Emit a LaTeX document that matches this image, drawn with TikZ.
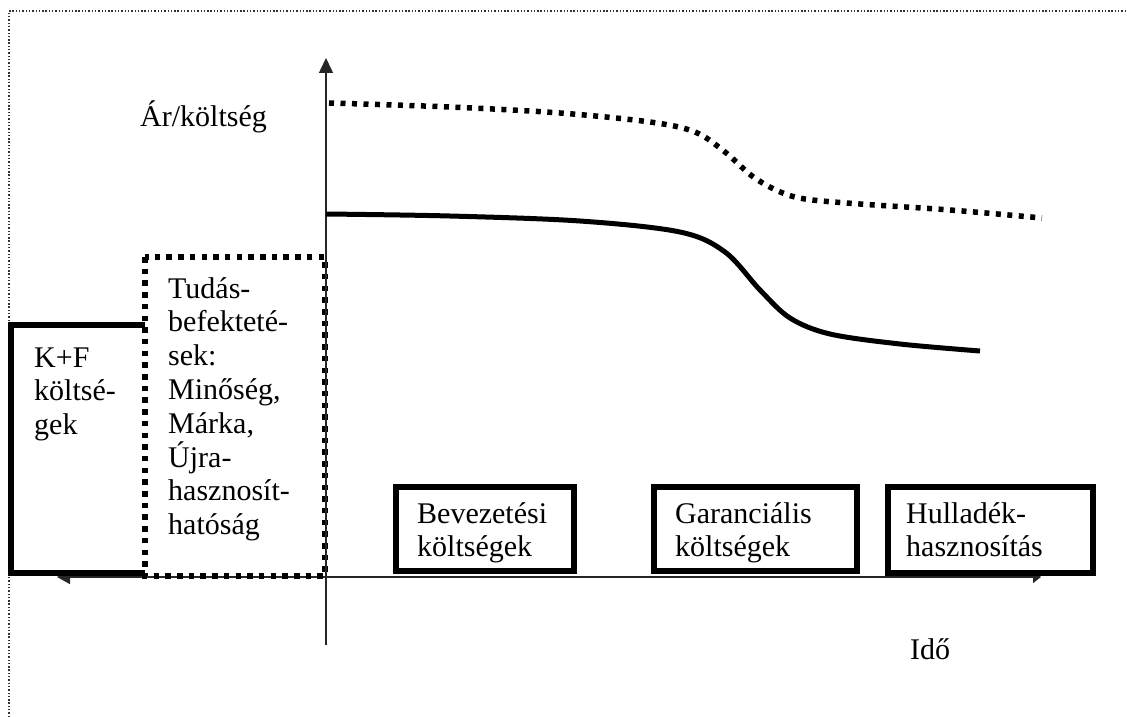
\documentclass[tikz,border=0pt]{standalone}
\usepackage{fontspec}
\setmainfont{Liberation Serif}
\usetikzlibrary{arrows.meta}
\begin{document}
\begin{tikzpicture}[x=1pt,y=-1pt,
  txt/.style={font=\fontsize{30}{33.8}\selectfont, inner sep=0pt, anchor=base west, text width=300pt, align=left},
  solidbox/.style={line width=6.5pt, fill=white, line join=miter},
  dotbox/.style={line width=5.5pt, dash pattern=on 5.5pt off 6.2pt, fill=white},
  axisline/.style={line width=1.5pt, black!85},
  outerborder/.style={line width=1.2pt, dash pattern=on 1.4pt off 1.9pt, black!80},
  solidcurve/.style={line width=5pt},
  dotcurve/.style={line width=5.5pt, dash pattern=on 5pt off 6.5pt}]
\useasboundingbox (0,0) rectangle (1127,717);
% outer dotted frame
\draw[outerborder] (9,717) -- (9,11) -- (1127,11);
% horizontal axis
\coordinate (hl) at (57,577);
\coordinate (hr) at (1041,577);
\draw[axisline, {Triangle[length=13pt,width=14pt]}-{Triangle[length=8pt,width=12pt]}] (hl) -- (hr);
% K+F box (open on the right)
\fill[white] (11,325) rectangle (147,573);
\draw[line width=6.5pt, line join=miter] (148,325) -- (11,325) -- (11,573) -- (150,573);
% Tudas box
\draw[dotbox] (145,257) rectangle (325,576);
% vertical axis
\coordinate (vb) at (326,645);
\coordinate (vt) at (326,58);
\draw[axisline, -{Triangle[length=15pt,width=14pt]}] (vb) -- (vt);
% bottom boxes
\draw[solidbox] (396,487) rectangle (574,571);
\draw[solidbox] (654,487) rectangle (857,571);
\draw[solidbox] (888,487) rectangle (1093,573);
% curves
\draw[dotcurve] plot[smooth, tension=0.55] coordinates {(329,103) (450,107) (560,113) (650,122) (695,132) (725,152) (752,176) (778,191) (805,199) (860,204) (950,210) (1042,218)};
\draw[solidcurve] plot[smooth, tension=0.55] coordinates {(326,214) (450,216) (580,221) (680,232) (725,252) (760,290) (790,318) (830,334) (900,344) (980,351)};
% texts
\node[txt] (ar) at (140,126) {Ár/költség};
\node[txt] (ido) at (910,659) {Idő};
\node[txt] (kf) at (34,367) {K+F\\költsé-\\gek};
\node[txt] (tudas) at (168,298) {Tudás-\\befekteté-\\sek:\\Minőség,\\Márka,\\Újra-\\hasznosít-\\hatóság};
\node[txt] (bev) at (417,523) {Bevezetési\\költségek};
\node[txt] (gar) at (675,523) {Garanciális\\költségek};
\node[txt] (hul) at (906,523) {Hulladék-\\hasznosítás};
\end{tikzpicture}
\end{document}
